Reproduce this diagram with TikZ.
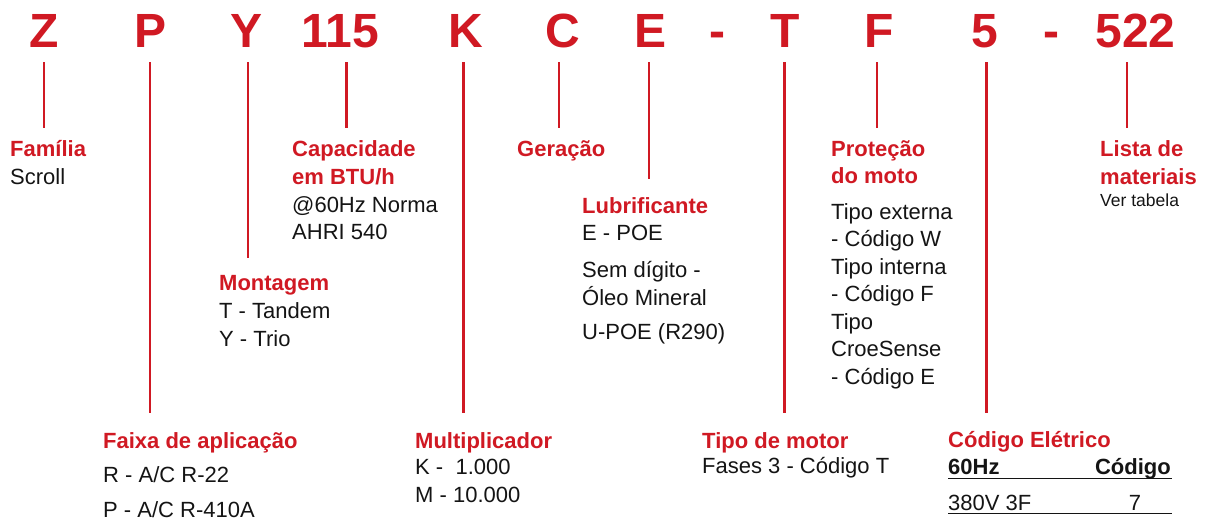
\documentclass[tikz,border=0pt]{standalone}
\usepackage{fontspec}
\setmainfont{Liberation Sans}
\definecolor{zred}{RGB}{208,25,35}
\definecolor{ztxt}{RGB}{20,20,20}
\begin{document}
\begin{tikzpicture}[x=1pt,y=-1pt,
  letter/.style={anchor=base,inner sep=0pt,text=zred,font=\fontsize{48}{48}\selectfont\bfseries},
  ttl/.style={anchor=base west,inner sep=0pt,text=zred,font=\fontsize{22}{26}\selectfont\bfseries},
  txt/.style={anchor=base west,inner sep=0pt,text=ztxt,font=\fontsize{22}{26}\selectfont},
  small/.style={anchor=base west,inner sep=0pt,text=ztxt,font=\fontsize{17.5}{20}\selectfont},
  hdr/.style={inner sep=0pt,text=ztxt,font=\fontsize{22}{26}\selectfont\bfseries},
  conn/.style={draw=zred,line width=2.5pt},
  rule/.style={draw=ztxt}]
\useasboundingbox (0,0) rectangle (1205,523);

% code letters
\node[letter] (lZ) at (44,47.5) {Z};
\node[letter] (lP) at (151,47.5) {P};
\node[letter] (lY) at (247,47.5) {Y};
\node[letter] (l115) at (340,47.5) {115};
\node[letter] (lK) at (466,47.5) {K};
\node[letter] (lC) at (563,47.5) {C};
\node[letter] (lE) at (651,47.5) {E};
\node[letter] (ld1) at (717,47.5) {-};
\node[letter] (lT) at (785,47.5) {T};
\node[letter] (lF) at (879.5,47.5) {F};
\node[letter] (l5) at (985,47.5) {5};
\node[letter] (ld2) at (1051,47.5) {-};
\node[letter] (l522) at (1135.5,47.5) {522};

% connector coordinates
\coordinate (tZ) at (44,62);     \coordinate (bZ) at (44,128);
\coordinate (tP) at (150,62);    \coordinate (bP) at (150,413);
\coordinate (tY) at (248,62);    \coordinate (bY) at (248,258);
\coordinate (t115) at (346.5,62); \coordinate (b115) at (346.5,128);
\coordinate (tK) at (463.5,62);  \coordinate (bK) at (463.5,413);
\coordinate (tC) at (559,62);    \coordinate (bC) at (559,128);
\coordinate (tE) at (649,62);    \coordinate (bE) at (649,179);
\coordinate (tT) at (784.5,62);  \coordinate (bT) at (784.5,413);
\coordinate (tF) at (877,62);    \coordinate (bF) at (877,128);
\coordinate (t5) at (986.5,62);  \coordinate (b5) at (986.5,413);
\coordinate (t522) at (1127,62); \coordinate (b522) at (1127,128);

\foreach \n in {Z,P,Y,115,K,C,E,T,F,5,522} \draw[conn] (t\n) -- (b\n);

% Familia
\node[ttl] (famT) at (10,156) {Família};
\node[txt] (fam1) at (10,184) {Scroll};

% Capacidade
\node[ttl] (capT1) at (292,156) {Capacidade};
\node[ttl] (capT2) at (292,184) {em BTU/h};
\node[txt] (cap1) at (292,212) {@60Hz Norma};
\node[txt] (cap2) at (292,239) {AHRI 540};

% Montagem
\node[ttl] (monT) at (219,290.5) {Montagem};
\node[txt] (mon1) at (219,318) {T - Tandem};
\node[txt] (mon2) at (219,346) {Y - Trio};

% Geracao
\node[ttl] (gerT) at (517,156) {Geração};

% Lubrificante
\node[ttl] (lubT) at (582,213) {Lubrificante};
\node[txt] (lub1) at (582,240) {E - POE};
\node[txt] (lub2) at (582,277) {Sem dígito -};
\node[txt] (lub3) at (582,305) {Óleo Mineral};
\node[txt] (lub4) at (582,339) {U-POE (R290)};

% Protecao
\node[ttl] (proT1) at (831,156) {Proteção};
\node[ttl] (proT2) at (831,183) {do moto};
\node[txt] (pro1) at (831,219) {Tipo externa};
\node[txt] (pro2) at (831,246.5) {- Código W};
\node[txt] (pro3) at (831,274) {Tipo interna};
\node[txt] (pro4) at (831,301.5) {- Código F};
\node[txt] (pro5) at (831,329) {Tipo};
\node[txt] (pro6) at (831,356.5) {CroeSense};
\node[txt] (pro7) at (831,384) {- Código E};

% Lista de materiais
\node[ttl] (lisT1) at (1100,156) {Lista de};
\node[ttl] (lisT2) at (1100,184) {materiais};
\node[small] (lis1) at (1100,206) {Ver tabela};

% Faixa de aplicacao
\node[ttl] (faiT) at (103,448) {Faixa de aplicação};
\node[txt] (fai1) at (103,482) {R - A/C R-22};
\node[txt] (fai2) at (103,517) {P - A/C R-410A};

% Multiplicador
\node[ttl] (mulT) at (415,448) {Multiplicador};
\node[txt] (mul1) at (415,474) {K -\ \ 1.000};
\node[txt] (mul2) at (415,502) {M - 10.000};

% Tipo de motor
\node[ttl] (motT) at (702,448) {Tipo de motor};
\node[txt] (mot1) at (702,473) {Fases 3 - Código T};

% Codigo eletrico
\node[ttl] (eleT) at (948,447) {Código Elétrico};
\node[hdr,anchor=base west] (eleH1) at (948,474) {60Hz};
\node[hdr,anchor=base east] (eleH2) at (1171,474) {Código};
\draw[rule,line width=1.5pt] (948,478.5) -- (1172,478.5);
\node[txt] (ele1) at (948,510.5) {380V 3F};
\node[txt,anchor=base] (ele2) at (1135,510.5) {7};
\draw[rule,line width=1pt] (948,513.5) -- (1172,513.5);
\end{tikzpicture}
\end{document}
